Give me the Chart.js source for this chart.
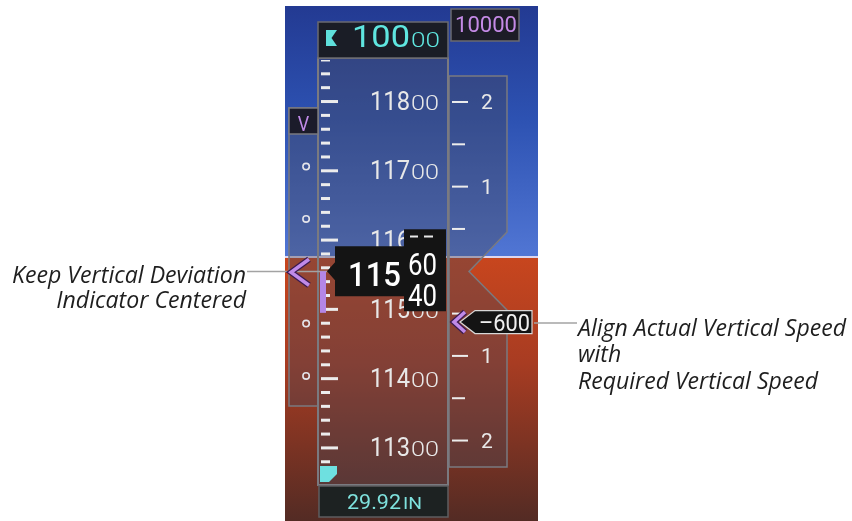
<!DOCTYPE html>
<html><head><meta charset="utf-8">
<script src="https://cdn.jsdelivr.net/npm/chart.js@4"></script>
<style>html,body{margin:0;padding:0;background:#fff;}canvas{display:block;}</style>
</head><body>
<canvas id="c" width="852" height="521"></canvas>
<script>
// ---------- data ----------
const altitudeLabels = [11300, 11400, 11500, 11600, 11700, 11800];
const altitudeTickStep = 20;
const currentAltitude = 11555;
const selectedAltitude = 10000;
const vnavTargetAltitude = 10000;
const baroSetting = ["29.92", "IN"];
const vsiTickValues = [2000, 1500, 1000, 500, -500, -1000, -1500, -2000];
const vsiLabelValues = [2000, 1000, -1000, -2000];
const verticalSpeed = -600;
const deviationDots = [2, 1, -1, -2];
const verticalDeviation = 0;
const drumDigits = [60, 40];
const annotationLeft = ["Keep Vertical Deviation", "Indicator Centered"];
const annotationRight = ["Align Actual Vertical Speed", "with", "Required Vertical Speed"];

// ---------- layout ----------
const W = 852, H = 521;
const CENTER_Y = 271.5;          // pixel row of the current-altitude pointer
const ALT_PX_PER_FT = 0.708;
const VSI_PX_PER_FPM = 0.0865;
const DEV_PX_PER_DOT = 53.5;
const PANEL = {l: 285, r: 538, t: 6, b: 521, horizon: 257};
const TAPE = {l: 318, r: 448, t: 58, b: 485};
const VSI = {l: 449, r: 507, t: 76, b: 467, notchTop: 232, notchX: 469, notchBot: 310};
const DEVP = {l: 289, r: 318, t: 108, b: 406};
const DEV_X = 304.5;

function txt(ctx, s, x, y, size, o) {
  o = o || {};
  ctx.save();
  ctx.font = `${o.style || 'normal'} ${o.weight || 400} ${size}px ${o.family || 'Roboto'}`;
  ctx.fillStyle = o.color || '#e8e8e8';
  ctx.textBaseline = o.baseline || 'alphabetic';
  ctx.textAlign = o.align || 'left';
  let sx = o.sx || 1;
  if (o.width) sx = o.width / ctx.measureText(s).width;
  ctx.translate(x, y);
  ctx.scale(sx, 1);
  ctx.fillText(s, 0, 0);
  ctx.restore();
  return sx;
}
function poly(ctx, pts, fill, stroke, lw) {
  ctx.beginPath();
  pts.forEach((p, i) => i ? ctx.lineTo(p[0], p[1]) : ctx.moveTo(p[0], p[1]));
  ctx.closePath();
  if (fill) { ctx.fillStyle = fill; ctx.fill(); }
  if (stroke) { ctx.strokeStyle = stroke; ctx.lineWidth = lw || 1; ctx.stroke(); }
}
function chevron(ctx, tipX, tipY, len, half) {
  ctx.save();
  ctx.lineCap = 'butt'; ctx.lineJoin = 'miter';
  ctx.beginPath();
  ctx.moveTo(tipX + len, tipY - half); ctx.lineTo(tipX, tipY); ctx.lineTo(tipX + len, tipY + half);
  ctx.strokeStyle = '#3a1a50'; ctx.lineWidth = 6; ctx.stroke();
  ctx.strokeStyle = '#c08ae8'; ctx.lineWidth = 3.5; ctx.stroke();
  ctx.restore();
}

const pfdPlugin = {
  id: 'pfd',
  beforeDatasetsDraw(chart) {
    const ctx = chart.ctx;
    // sky & ground
    let g = ctx.createLinearGradient(0, PANEL.t, 0, PANEL.horizon);
    g.addColorStop(0, '#233a92'); g.addColorStop(0.45, '#2d52b2'); g.addColorStop(1, '#5176d4');
    ctx.fillStyle = g; ctx.fillRect(PANEL.l, PANEL.t, PANEL.r - PANEL.l, PANEL.horizon - PANEL.t);
    g = ctx.createLinearGradient(0, PANEL.horizon, 0, PANEL.b);
    g.addColorStop(0, '#c8461e'); g.addColorStop(0.4, '#a83c22'); g.addColorStop(1, '#532b24');
    ctx.fillStyle = g; ctx.fillRect(PANEL.l, PANEL.horizon, PANEL.r - PANEL.l, PANEL.b - PANEL.horizon);
    ctx.fillStyle = '#ddd6ee'; ctx.fillRect(PANEL.l, PANEL.horizon - 1, PANEL.r - PANEL.l, 2);

    const ov = 'rgba(70,70,88,0.38)', bd = '#7a7a80';
    // deviation panel
    ctx.fillStyle = ov; ctx.fillRect(DEVP.l, DEVP.t, DEVP.r - DEVP.l, DEVP.b - DEVP.t);
    ctx.strokeStyle = bd; ctx.lineWidth = 1.5;
    ctx.strokeRect(DEVP.l, DEVP.t, DEVP.r - DEVP.l, DEVP.b - DEVP.t);
    // VSI panel
    poly(ctx, [[VSI.l, VSI.t], [VSI.r, VSI.t], [VSI.r, VSI.notchTop], [VSI.notchX, CENTER_Y],
               [VSI.r, VSI.notchBot], [VSI.r, VSI.b], [VSI.l, VSI.b]], ov, bd, 1.5);
    // tape
    ctx.fillStyle = ov; ctx.fillRect(TAPE.l, TAPE.t, TAPE.r - TAPE.l, TAPE.b - TAPE.t);
    ctx.strokeStyle = bd; ctx.lineWidth = 2;
    ctx.strokeRect(TAPE.l, TAPE.t, TAPE.r - TAPE.l, TAPE.b - TAPE.t);

    // "V" box
    poly(ctx, [[DEVP.l, DEVP.t], [DEVP.r, DEVP.t], [DEVP.r, 134], [DEVP.l, 134]], '#1b1b2a', bd, 1.5);
    txt(ctx, 'V', (DEVP.l + DEVP.r) / 2, 131, 20, {align: 'center', color: '#c08ae8', sx: 0.9});
  },
  afterDatasetsDraw(chart) {
    const ctx = chart.ctx;
    const alt = chart.scales.alt, vsi = chart.scales.vsi, dev = chart.scales.dev;

    // altitude ticks
    ctx.save();
    ctx.beginPath(); ctx.rect(TAPE.l, TAPE.t + 2, TAPE.r - TAPE.l, TAPE.b - TAPE.t - 4); ctx.clip();
    const lo = Math.ceil(alt.min / altitudeTickStep) * altitudeTickStep;
    ctx.fillStyle = '#ececec';
    for (let v = lo; v <= alt.max; v += altitudeTickStep) {
      const y = alt.getPixelForValue(v);
      const major = v % 100 === 0;
      ctx.fillRect(321, y - 1.5, major ? 17 : 9, 3);
    }
    // altitude labels
    altitudeLabels.forEach(v => {
      const y = alt.getPixelForValue(v);
      txt(ctx, String(Math.floor(v / 100)), 410, y + 8.5, 25, {align: 'right', width: 40});
      txt(ctx, String(v % 100).padStart(2, '0'), 411, y + 8.5, 20, {width: 28, weight: 300});
    });
    ctx.restore();

    // VSI ticks & labels
    ctx.fillStyle = '#ececec';
    vsiTickValues.forEach(v => {
      const y = vsi.getPixelForValue(v);
      const major = v % 1000 === 0;
      ctx.fillRect(452, y - 1, major ? 16 : 13, 2);
    });
    vsiLabelValues.forEach(v => {
      const y = vsi.getPixelForValue(v);
      txt(ctx, String(Math.abs(v / 1000)), 487, y + 7.5, 21, {align: 'center'});
    });

    // annotation leader lines
    ctx.strokeStyle = '#a3a3a3'; ctx.lineWidth = 1.5;
    ctx.beginPath(); ctx.moveTo(247, CENTER_Y); ctx.lineTo(327, CENTER_Y); ctx.stroke();
    const vsY = vsi.getPixelForValue(verticalSpeed);
    ctx.beginPath(); ctx.moveTo(534, vsY + 1); ctx.lineTo(577, vsY + 1); ctx.stroke();

    // altitude trend vector (6 s)
    const yNow = alt.getPixelForValue(currentAltitude);
    const yTrend = alt.getPixelForValue(currentAltitude + verticalSpeed * 0.1);
    ctx.fillStyle = '#b486e6';
    ctx.fillRect(320, yNow, 6, yTrend - yNow);

    // vertical deviation pointer
    chevron(ctx, 291, dev.getPixelForValue(verticalDeviation) + 1, 18, 13);

    // current altitude readout
    const cy = yNow;
    poly(ctx, [[335, cy - 25], [404, cy - 25], [404, cy - 42], [446, cy - 42], [446, cy + 40],
               [404, cy + 40], [404, cy + 25], [335, cy + 25], [335, cy + 9], [327, cy], [335, cy - 9]], '#141414');
    txt(ctx, String(Math.floor(currentAltitude / 100)), 401, cy + 14.5, 33, {align: 'right', weight: 500, width: 53, color: '#ffffff'});
    ctx.save();
    ctx.beginPath(); ctx.rect(404, cy - 42, 42, 82); ctx.clip();
    const rem = currentAltitude % 100;
    drumDigits.forEach(d => {
      const y = cy + (rem - d) / 20 * 31;
      txt(ctx, String(d), 408, y + 11, 31, {width: 29, color: '#ffffff'});
    });
    // dashes of the next drum row
    const yd = cy + (rem - (drumDigits[0] + 20)) / 20 * 31;
    ctx.fillStyle = '#e8e8e8';
    ctx.fillRect(410, yd + 3, 8, 2); ctx.fillRect(424, yd + 3, 9, 2);
    ctx.restore();

    // selected altitude box
    poly(ctx, [[TAPE.l, 22], [TAPE.r, 22], [TAPE.r, TAPE.t], [TAPE.l, TAPE.t]], '#1a1d26', '#6a6a70', 1.5);
    poly(ctx, [[326, 30], [337, 30], [331.5, 38], [337, 46], [326, 46]], '#5fe0dc');
    txt(ctx, String(Math.floor(selectedAltitude / 100)), 410, 47, 31, {align: 'right', width: 58, color: '#5fe6e0'});
    txt(ctx, String(selectedAltitude % 100).padStart(2, '0'), 411, 47, 21, {width: 29, weight: 300, color: '#5fe6e0'});
    // VNAV target altitude box
    poly(ctx, [[451, 9], [519, 9], [519, 41], [451, 41]], '#1c1c26', '#6a6a70', 1.5);
    txt(ctx, String(vnavTargetAltitude), 486, 32, 22, {align: 'center', width: 62, color: '#c48ae6'});

    // selected altitude bug parked at the bottom of the tape
    if (selectedAltitude < alt.getValueForPixel(TAPE.b)) {
      poly(ctx, [[320, 466], [337, 466], [337, 474], [333, 478], [329, 482], [320, 482]], '#6ee0e0');
    }

    // barometric setting
    poly(ctx, [[319, 486], [448, 486], [448, 517], [319, 517]], '#1d2222', '#5e5e60', 1.5);
    txt(ctx, baroSetting[0], 347, 509, 21, {width: 54, color: '#7fe2de'});
    txt(ctx, baroSetting[1], 403, 509, 16, {width: 19, color: '#7fe2de'});

    // vertical speed pointer
    chevron(ctx, 454, vsY, 11, 10);
    poly(ctx, [[460, vsY], [475, vsY - 11.5], [532, vsY - 11.5], [532, vsY + 11.5], [475, vsY + 11.5]], '#141414', '#d8d8d8', 1.2);
    txt(ctx, '\u2013' + Math.abs(verticalSpeed), 530, vsY + 9, 23, {align: 'right', width: 51, color: '#f0f0f0'});

    // annotations
    const af = {style: 'italic', weight: 400, family: '"Open Sans"', color: '#1e1e1e'};
    let sx = txt(ctx, annotationLeft[0], 246, 283, 24, Object.assign({align: 'right', width: 234}, af));
    txt(ctx, annotationLeft[1], 246, 308, 24, Object.assign({align: 'right', sx}, af));
    sx = txt(ctx, annotationRight[0], 578, 336, 24, Object.assign({width: 268}, af));
    txt(ctx, annotationRight[1], 578, 362, 24, Object.assign({sx}, af));
    txt(ctx, annotationRight[2], 578, 389, 24, Object.assign({sx}, af));
  }
};

new Chart(document.getElementById('c'), {
  type: 'scatter',
  data: {
    datasets: [{
      data: deviationDots.map(d => ({x: DEV_X, y: d})),
      xAxisID: 'x', yAxisID: 'dev',
      pointStyle: 'circle', pointRadius: 3.2, borderWidth: 1.6,
      borderColor: '#e4e4ea', backgroundColor: 'rgba(0,0,0,0)'
    }]
  },
  options: {
    responsive: false, animation: false, events: [], devicePixelRatio: 1,
    layout: {padding: 0},
    plugins: {legend: {display: false}, tooltip: {enabled: false}},
    scales: {
      x: {type: 'linear', min: 0, max: W, display: false},
      y: {type: 'linear', display: false},
      alt: {type: 'linear', position: 'left', display: false,
            min: currentAltitude - (H - CENTER_Y) / ALT_PX_PER_FT, max: currentAltitude + CENTER_Y / ALT_PX_PER_FT},
      vsi: {type: 'linear', position: 'right', display: false,
            min: -(H - CENTER_Y) / VSI_PX_PER_FPM, max: CENTER_Y / VSI_PX_PER_FPM},
      dev: {type: 'linear', position: 'left', display: false,
            min: -(H - CENTER_Y) / DEV_PX_PER_DOT, max: CENTER_Y / DEV_PX_PER_DOT}
    }
  },
  plugins: [pfdPlugin]
});
</script>
</body></html>
